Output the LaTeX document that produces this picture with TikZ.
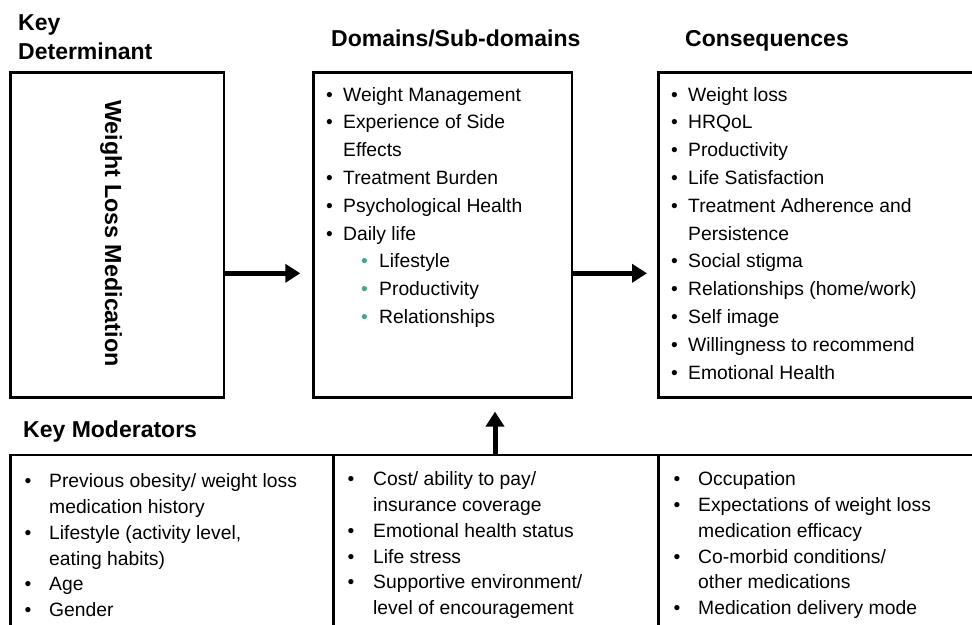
\documentclass[tikz,border=0pt]{standalone}
\usepackage{fontspec}
\setmainfont{Liberation Sans}
\usetikzlibrary{arrows.meta}
\definecolor{subgreen}{RGB}{70,165,140}
\newcommand{\bitem}[2]{\makebox[#1][l]{\textbullet}#2}
\newcommand{\bcont}[2]{\hspace*{#1}#2}
\newcommand{\gitem}[1]{\hspace*{35pt}\makebox[18pt][l]{\textcolor{subgreen}{\textbullet}}#1}
\begin{document}
\begin{tikzpicture}[x=1pt,y=-1pt,
  box/.style={draw=black, line width=2.6pt, inner sep=0pt, anchor=north west},
  ttl/.style={font=\fontsize{23}{29}\selectfont\bfseries, inner sep=0pt, align=left},
  body/.style={font=\fontsize{19.3}{27.8}\selectfont, inner sep=0pt, align=left, anchor=north west},
  bodyb/.style={font=\fontsize{19.3}{25.8}\selectfont, inner sep=0pt, align=left, anchor=north west},
  arr/.style={line width=5pt, -{Triangle[length=15pt,width=18pt]}}]
\useasboundingbox (0,0) rectangle (972,624);
\clip (0,0) rectangle (972,624);
% boxes
\node[box, minimum width=213.5pt, minimum height=325pt] (det) at (9,71) {};
\node[box, minimum width=258.4pt, minimum height=325pt] (dom) at (312.3,71) {};
\node[box, minimum width=340pt, minimum height=325pt] (cons) at (657,71) {};
\node[box, minimum width=1000pt, minimum height=250pt] (mod) at (9,453.5) {};
\coordinate (d1) at (333.3,453.5);
\coordinate (d2) at (658.3,453.5);
\draw[line width=2.6pt] (d1) -- (d1 |- 0,700);
\draw[line width=2.6pt] (d2) -- (d2 |- 0,700);
% titles
\node[ttl, anchor=north west] (tdet) at (18,9.7) {\strut Key\\Determinant};
\node[ttl, anchor=base west] (tdom) at (331,46) {Domains/Sub-domains};
\node[ttl, anchor=base west] (tcons) at (685,46) {Consequences};
\node[ttl, anchor=base west] (tmod) at (23,437) {Key Moderators};
% determinant
\node[font=\fontsize{23.3}{28}\selectfont\bfseries, rotate=-90, inner sep=0pt] (wlm) at (111,233.5) {Weight Loss Medication};
% domains
\node[body] (domtxt) at (326,81.5) {\strut\bitem{17pt}{Weight Management}\\
\bitem{17pt}{Experience of Side}\\
\bcont{17pt}{Effects}\\
\bitem{17pt}{Treatment Burden}\\
\bitem{17pt}{Psychological Health}\\
\bitem{17pt}{Daily life}\\
\gitem{Lifestyle}\\
\gitem{Productivity}\\
\gitem{Relationships}};
% consequences
\node[body] (constxt) at (671,81.5) {\strut\bitem{17pt}{Weight loss}\\
\bitem{17pt}{HRQoL}\\
\bitem{17pt}{Productivity}\\
\bitem{17pt}{Life Satisfaction}\\
\bitem{17pt}{Treatment Adherence and}\\
\bcont{17pt}{Persistence}\\
\bitem{17pt}{Social stigma}\\
\bitem{17pt}{Relationships (home/work)}\\
\bitem{17pt}{Self image}\\
\bitem{17pt}{Willingness to recommend}\\
\bitem{17pt}{Emotional Health}};
% moderators
\node[bodyb] (m1) at (24.5,469.4) {\strut\bitem{24.5pt}{Previous obesity/ weight loss}\\
\bcont{24.5pt}{medication history}\\
\bitem{24.5pt}{Lifestyle (activity level,}\\
\bcont{24.5pt}{eating habits)}\\
\bitem{24.5pt}{Age}\\
\bitem{24.5pt}{Gender}};
\node[bodyb] (m2) at (347.5,467.4) {\strut\bitem{25.5pt}{Cost/ ability to pay/}\\
\bcont{25.5pt}{insurance coverage}\\
\bitem{25.5pt}{Emotional health status}\\
\bitem{25.5pt}{Life stress}\\
\bitem{25.5pt}{Supportive environment/}\\
\bcont{25.5pt}{level of encouragement}};
\node[bodyb] (m3) at (673.5,467.4) {\strut\bitem{24.5pt}{Occupation}\\
\bitem{24.5pt}{Expectations of weight loss}\\
\bcont{24.5pt}{medication efficacy}\\
\bitem{24.5pt}{Co-morbid conditions/}\\
\bcont{24.5pt}{other medications}\\
\bitem{24.5pt}{Medication delivery mode}};
% arrows
\coordinate (ay) at (0,273.3);
\draw[arr, shorten >=12pt] (det.east |- ay) -- (dom.west |- ay);
\draw[arr, shorten >=10pt] (dom.east |- ay) -- (cons.west |- ay);
\coordinate (ux) at (495,453.5);
\draw[arr, shorten >=13pt] (ux) -- (dom.south -| ux);
\end{tikzpicture}
\end{document}
